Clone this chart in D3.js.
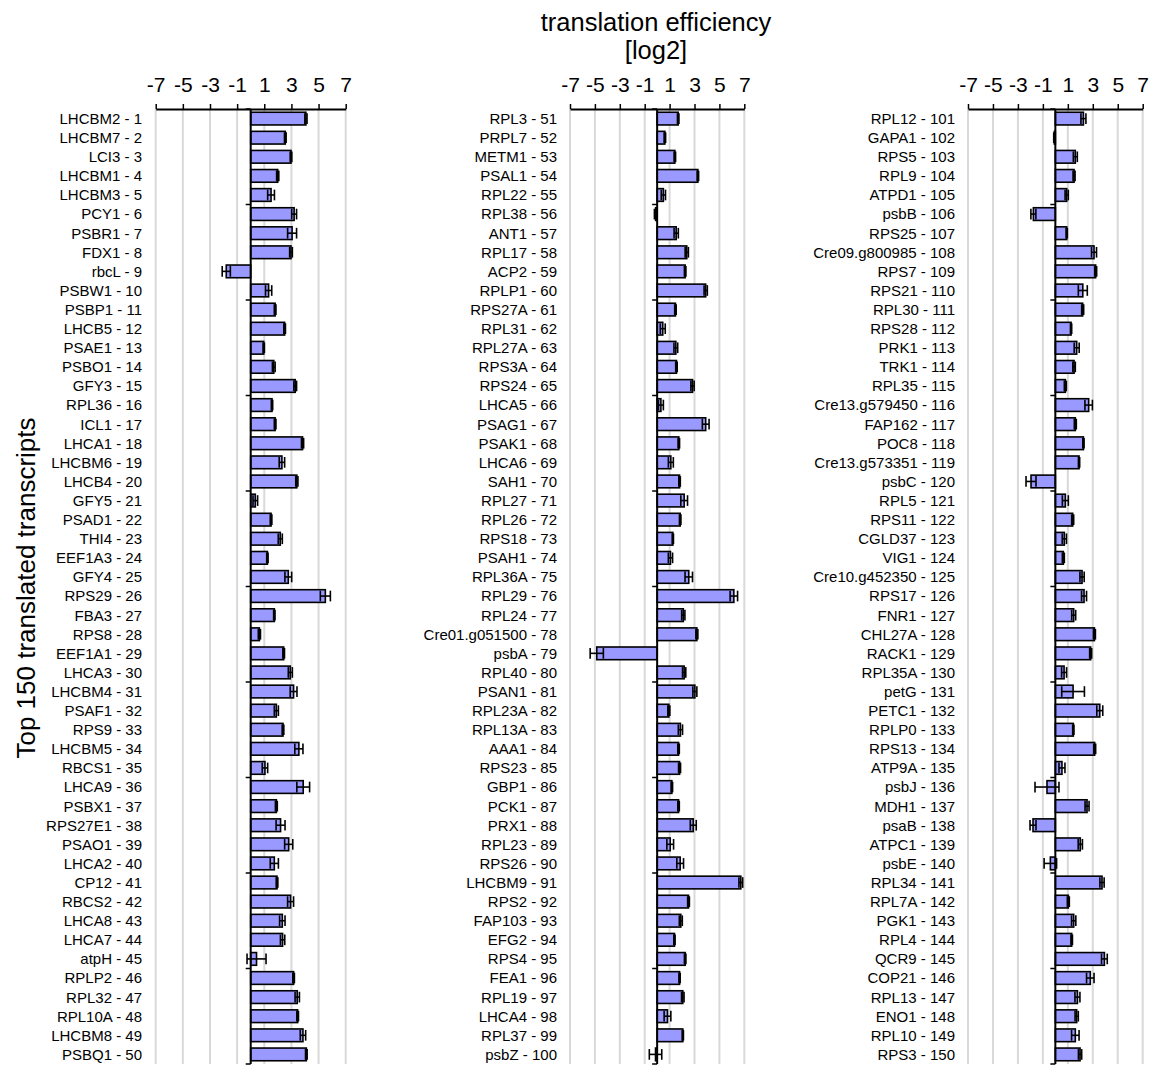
<!DOCTYPE html>
<html>
<head>
<meta charset="utf-8">
<script src="https://cdn.jsdelivr.net/npm/d3@7"></script>
<style>
  body { margin: 0; background: #fff; }
  svg { display: block; font-family: Arial, "Liberation Sans", sans-serif; }
</style>
</head>
<body>
<svg id="chart" width="1155" height="1066"></svg>
<script>
// Transcript names (ranked 1-150)
const genes = [
  "LHCBM2","LHCBM7","LCI3","LHCBM1","LHCBM3","PCY1","PSBR1","FDX1","rbcL","PSBW1",
  "PSBP1","LHCB5","PSAE1","PSBO1","GFY3","RPL36","ICL1","LHCA1","LHCBM6","LHCB4",
  "GFY5","PSAD1","THI4","EEF1A3","GFY4","RPS29","FBA3","RPS8","EEF1A1","LHCA3",
  "LHCBM4","PSAF1","RPS9","LHCBM5","RBCS1","LHCA9","PSBX1","RPS27E1","PSAO1","LHCA2",
  "CP12","RBCS2","LHCA8","LHCA7","atpH","RPLP2","RPL32","RPL10A","LHCBM8","PSBQ1",
  "RPL3","PRPL7","METM1","PSAL1","RPL22","RPL38","ANT1","RPL17","ACP2","RPLP1",
  "RPS27A","RPL31","RPL27A","RPS3A","RPS24","LHCA5","PSAG1","PSAK1","LHCA6","SAH1",
  "RPL27","RPL26","RPS18","PSAH1","RPL36A","RPL29","RPL24","Cre01.g051500","psbA","RPL40",
  "PSAN1","RPL23A","RPL13A","AAA1","RPS23","GBP1","PCK1","PRX1","RPL23","RPS26",
  "LHCBM9","RPS2","FAP103","EFG2","RPS4","FEA1","RPL19","LHCA4","RPL37","psbZ",
  "RPL12","GAPA1","RPS5","RPL9","ATPD1","psbB","RPS25","Cre09.g800985","RPS7","RPS21",
  "RPL30","RPS28","PRK1","TRK1","RPL35","Cre13.g579450","FAP162","POC8","Cre13.g573351","psbC",
  "RPL5","RPS11","CGLD37","VIG1","Cre10.g452350","RPS17","FNR1","CHL27A","RACK1","RPL35A",
  "petG","PETC1","RPLP0","RPS13","ATP9A","psbJ","MDH1","psaB","ATPC1","psbE",
  "RPL34","RPL7A","PGK1","RPL4","QCR9","COP21","RPL13","ENO1","RPL10","RPS3"
];

// Mean translation efficiency [log2]
const te = [
  4.07, 2.55, 2.97, 1.99, 1.50, 3.20, 3.05, 2.97, -1.80, 1.32,
  1.80, 2.50, 0.96, 1.70, 3.28, 1.57, 1.80, 3.82, 2.30, 3.40,
  0.34, 1.50, 2.18, 1.23, 2.77, 5.50, 1.74, 0.64, 2.43, 2.92,
  3.16, 1.89, 2.38, 3.55, 1.05, 3.87, 1.89, 2.20, 2.80, 1.74,
  1.94, 2.94, 2.33, 2.35, 0.43, 3.16, 3.43, 3.46, 3.85, 4.10,
  1.69, 0.62, 1.42, 3.27, 0.50, -0.12, 1.53, 2.38, 2.25, 3.90,
  1.47, 0.45, 1.50, 1.55, 2.84, 0.30, 3.90, 1.74, 1.10, 1.80,
  2.17, 1.85, 1.26, 1.07, 2.54, 6.16, 2.10, 3.19, -4.85, 2.17,
  3.03, 0.94, 1.87, 1.72, 1.80, 1.18, 1.72, 2.90, 1.05, 1.85,
  6.72, 2.52, 1.90, 1.39, 2.25, 1.80, 2.06, 0.83, 2.06, -0.13,
  2.25, -0.08, 1.60, 1.50, 0.91, -1.76, 0.91, 3.10, 3.23, 2.20,
  2.19, 1.26, 1.71, 1.50, 0.80, 2.67, 1.60, 2.25, 1.90, -1.95,
  0.80, 1.39, 0.72, 0.64, 2.14, 2.30, 1.47, 3.13, 2.83, 0.70,
  1.42, 3.56, 1.44, 3.15, 0.53, -0.67, 2.54, -1.79, 2.00, -0.40,
  3.74, 1.04, 1.47, 1.31, 3.93, 2.80, 1.77, 1.71, 1.60, 1.98
];

// Error (± one standard error)
const err = [
  0.08, 0.06, 0.06, 0.08, 0.25, 0.18, 0.33, 0.10, 0.30, 0.23,
  0.06, 0.06, 0.05, 0.10, 0.10, 0.05, 0.06, 0.08, 0.20, 0.08,
  0.17, 0.06, 0.15, 0.05, 0.25, 0.37, 0.05, 0.08, 0.06, 0.15,
  0.25, 0.15, 0.06, 0.30, 0.20, 0.47, 0.07, 0.33, 0.30, 0.30,
  0.06, 0.22, 0.20, 0.16, 0.70, 0.06, 0.16, 0.06, 0.20, 0.06,
  0.06, 0.06, 0.06, 0.06, 0.17, 0.10, 0.17, 0.13, 0.06, 0.13,
  0.06, 0.20, 0.15, 0.06, 0.13, 0.20, 0.27, 0.06, 0.20, 0.06,
  0.27, 0.06, 0.05, 0.17, 0.30, 0.30, 0.13, 0.08, 0.53, 0.13,
  0.16, 0.08, 0.17, 0.06, 0.08, 0.06, 0.06, 0.24, 0.27, 0.27,
  0.15, 0.07, 0.12, 0.05, 0.06, 0.05, 0.10, 0.27, 0.05, 0.50,
  0.20, 0.05, 0.16, 0.08, 0.13, 0.20, 0.05, 0.20, 0.08, 0.36,
  0.08, 0.05, 0.20, 0.10, 0.08, 0.30, 0.08, 0.05, 0.05, 0.40,
  0.24, 0.08, 0.17, 0.08, 0.17, 0.20, 0.16, 0.08, 0.08, 0.20,
  0.91, 0.24, 0.05, 0.08, 0.24, 0.96, 0.16, 0.24, 0.17, 0.50,
  0.17, 0.08, 0.17, 0.06, 0.23, 0.30, 0.20, 0.13, 0.30, 0.13
];

const tickValues = [-7, -5, -3, -1, 1, 3, 5, 7];

const svg = d3.select("#chart");
const plotTop = 109, plotBottom = 1064;

// three panels of 50 transcripts each
const panels = [
  { x0: 155.7, x1: 345.7, labelX: 142 },
  { x0: 570,   x1: 744.3, labelX: 557 },
  { x0: 968,   x1: 1142.7, labelX: 955 }
];

panels.forEach((p, pi) => {
  const rows = d3.range(pi * 50, pi * 50 + 50);
  const x = d3.scaleLinear().domain([-7, 7]).range([p.x0, p.x1]);
  const y = d3.scaleBand().domain(rows).range([plotTop, plotBottom]).paddingInner(0.335).paddingOuter(0.17);
  const g = svg.append("g");

  // vertical gridlines
  g.selectAll("line.grid").data(tickValues).join("line")
    .attr("x1", d => x(d)).attr("x2", d => x(d))
    .attr("y1", plotTop).attr("y2", plotBottom)
    .attr("stroke", "#d9d9d9").attr("stroke-width", 2);

  // top value axis
  const axis = d3.axisTop(x).tickValues(tickValues).tickSize(5).tickSizeOuter(0)
    .tickFormat(d => d < 0 ? "-" + Math.abs(d) : d);
  const ax = g.append("g").attr("transform", `translate(0,${plotTop})`).call(axis);
  ax.select(".domain").attr("stroke", "#000").attr("stroke-width", 2);
  ax.selectAll(".tick line").attr("stroke", "#000").attr("stroke-width", 1.5);
  ax.selectAll(".tick text").attr("font-size", 21).attr("fill", "#000")
    .attr("font-family", "Arial, 'Liberation Sans', sans-serif").attr("dy", "-0.45em");

  // bars
  const bh = y.bandwidth();
  g.selectAll("rect.bar").data(rows).join("rect")
    .attr("x", i => Math.min(x(0), x(te[i])))
    .attr("width", i => Math.abs(x(te[i]) - x(0)))
    .attr("y", i => y(i)).attr("height", bh)
    .attr("fill", "#9999ff").attr("stroke", "#000").attr("stroke-width", 1.6);

  // error bars
  const eb = g.selectAll("g.err").data(rows).join("g")
    .attr("stroke", "#000").attr("stroke-width", 1.6);
  eb.append("line")
    .attr("x1", i => x(te[i] - err[i])).attr("x2", i => x(te[i] + err[i]))
    .attr("y1", i => y(i) + bh / 2).attr("y2", i => y(i) + bh / 2);
  eb.append("line")
    .attr("x1", i => x(te[i] - err[i])).attr("x2", i => x(te[i] - err[i]))
    .attr("y1", i => y(i) + 1).attr("y2", i => y(i) + bh - 1);
  eb.append("line")
    .attr("x1", i => x(te[i] + err[i])).attr("x2", i => x(te[i] + err[i]))
    .attr("y1", i => y(i) + 1).attr("y2", i => y(i) + bh - 1);

  // category axis at zero
  g.append("line")
    .attr("x1", x(0)).attr("x2", x(0)).attr("y1", plotTop).attr("y2", plotBottom)
    .attr("stroke", "#000").attr("stroke-width", 2);
  const step = (plotBottom - plotTop) / 50;
  g.selectAll("line.ctick").data(d3.range(0, 51, 5)).join("line")
    .attr("x1", x(0) - 5).attr("x2", x(0))
    .attr("y1", k => plotTop + k * step).attr("y2", k => plotTop + k * step)
    .attr("stroke", "#000").attr("stroke-width", 1.5);

  // transcript labels
  g.selectAll("text.lab").data(rows).join("text")
    .attr("x", p.labelX).attr("y", i => y(i) + bh / 2)
    .attr("dy", "0.36em").attr("text-anchor", "end")
    .attr("font-size", 15).attr("fill", "#000")
    .text(i => `${genes[i]} - ${i + 1}`);
});

// titles
const title = svg.append("text").attr("text-anchor", "middle").attr("font-size", 25.5).attr("fill", "#000");
title.append("tspan").attr("x", 656).attr("y", 31).text("translation efficiency");
title.append("tspan").attr("x", 656).attr("y", 59).text("[log2]");

svg.append("text")
  .attr("transform", "translate(35,588) rotate(-90)")
  .attr("text-anchor", "middle").attr("font-size", 26).attr("fill", "#000")
  .text("Top 150 translated transcripts");
</script>
</body>
</html>
